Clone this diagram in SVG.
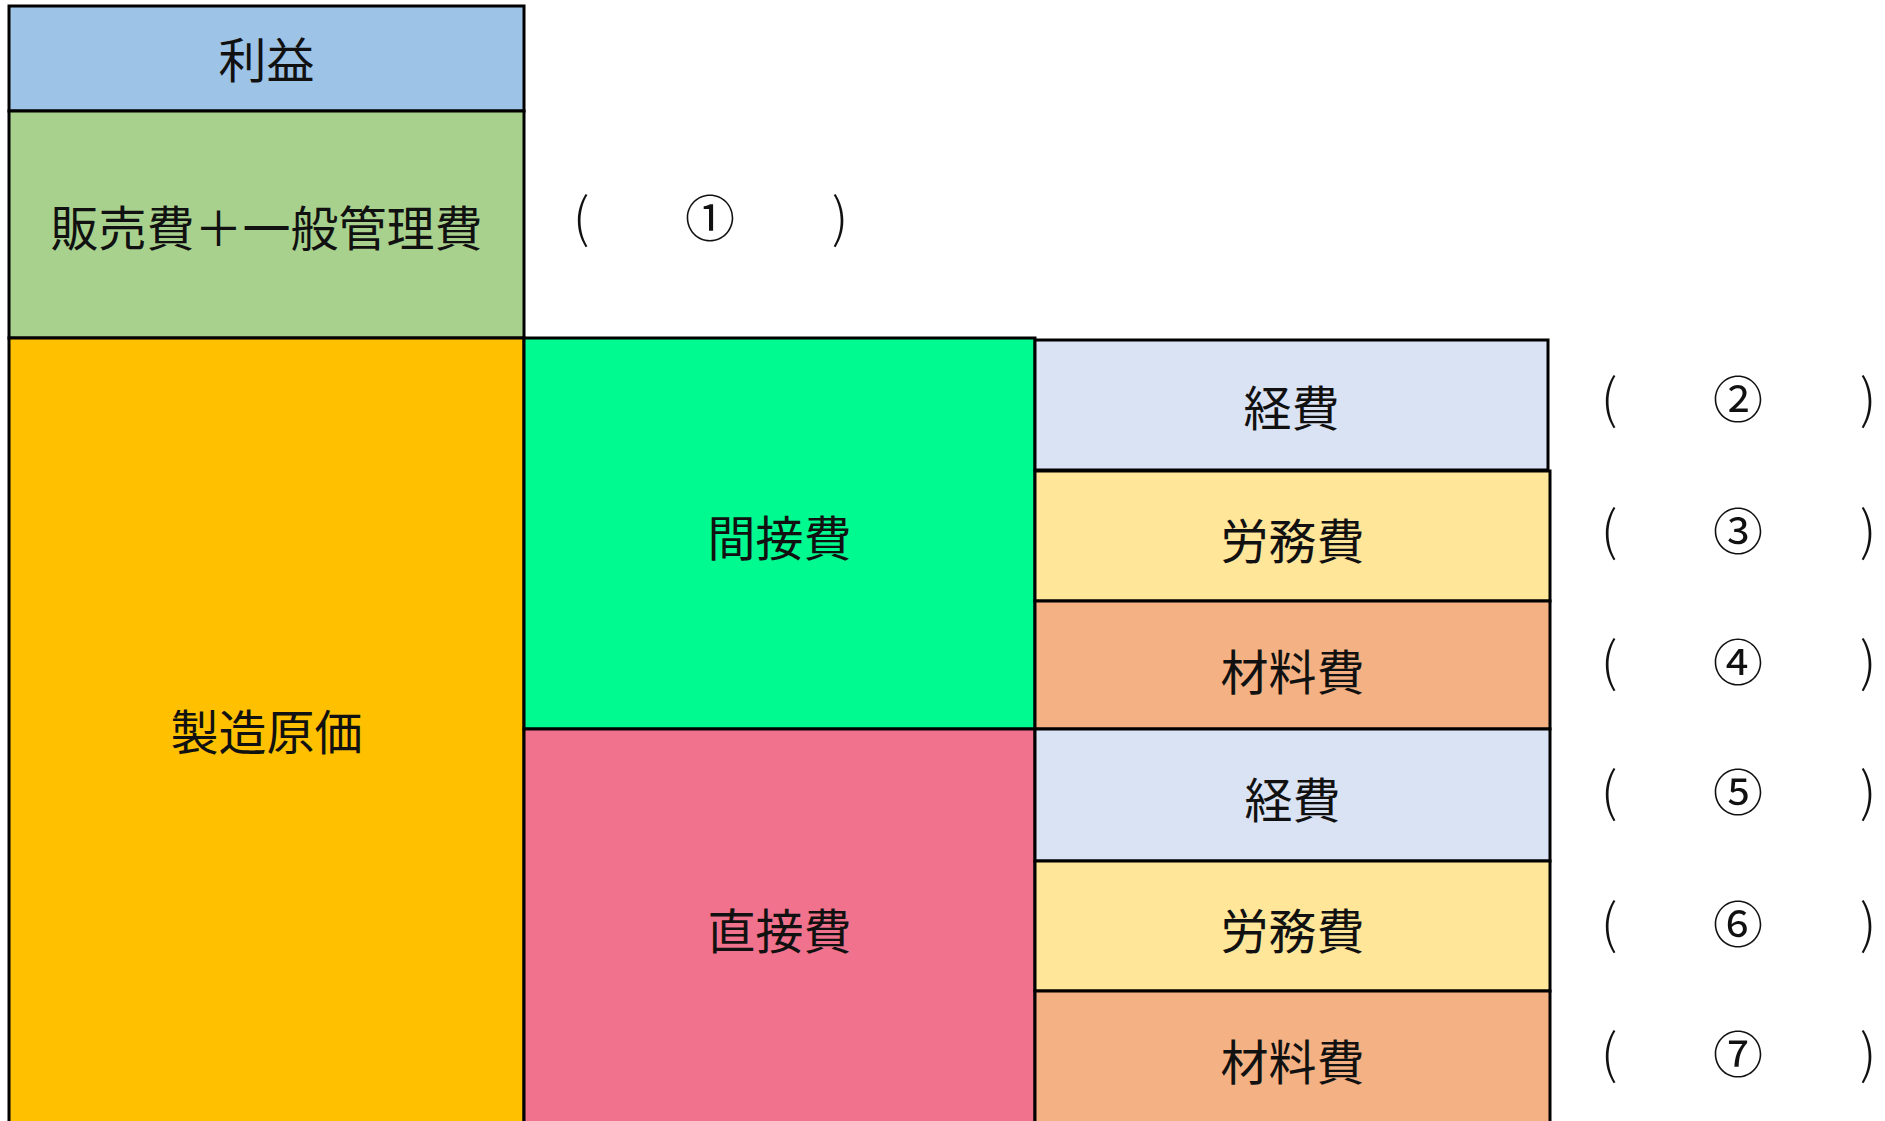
<svg xmlns="http://www.w3.org/2000/svg" width="1885" height="1121" viewBox="0 0 1885 1121">
<style>
rect.b{stroke:#000;stroke-width:3}
text{font-family:"Noto Sans CJK JP","Noto Sans CJK SC",sans-serif;font-size:48px;fill:#111;text-anchor:middle;dominant-baseline:central}
text.n{font-size:50px}
text.p{font-size:53px;font-weight:300}
</style>
<rect width="1885" height="1121" fill="#fff"/>
<g id="rieki"><rect class="b" x="9" y="6" width="515" height="105" fill="#9DC3E6"/><text x="266.5" y="57">利益</text></g>
<g id="hanbai"><rect class="b" x="9" y="111" width="515" height="227" fill="#A9D18E"/><text x="266.5" y="225">販売費＋一般管理費</text></g>
<g id="seizo"><rect class="b" x="9" y="338" width="515" height="800" fill="#FFC000"/><text x="266.5" y="729">製造原価</text></g>
<g id="kansetsu"><rect class="b" x="524" y="338" width="511" height="391" fill="#00FA8F"/><text x="779.5" y="535">間接費</text></g>
<g id="chokusetsu"><rect class="b" x="524" y="729" width="511" height="410" fill="#F1728C"/><text x="779.5" y="928">直接費</text></g>
<g id="keihi1"><rect class="b" x="1035" y="340" width="513" height="130" fill="#DAE3F3"/><text x="1291.5" y="405">経費</text></g>
<g id="romu1"><rect class="b" x="1035" y="471" width="515" height="130" fill="#FFE699"/><text x="1292.5" y="538">労務費</text></g>
<g id="zairyo1"><rect class="b" x="1035" y="601" width="515" height="128" fill="#F4B183"/><text x="1292.5" y="669">材料費</text></g>
<g id="keihi2"><rect class="b" x="1035" y="729" width="515" height="132" fill="#DAE3F3"/><text x="1292.5" y="797">経費</text></g>
<g id="romu2"><rect class="b" x="1035" y="861" width="515" height="130" fill="#FFE699"/><text x="1292.5" y="928">労務費</text></g>
<g id="zairyo2"><rect class="b" x="1035" y="991" width="515" height="150" fill="#F4B183"/><text x="1292.5" y="1059">材料費</text></g>
<g id="labels">
<g id="l1"><text class="p" x="581" y="214">(</text><text class="n" x="710" y="215">①</text><text class="p" x="840" y="214">)</text></g>
<g id="l2"><text class="p" x="1609" y="395">(</text><text class="n" x="1738" y="396">②</text><text class="p" x="1868" y="395">)</text></g>
<g id="l3"><text class="p" x="1609" y="527">(</text><text class="n" x="1738" y="528">③</text><text class="p" x="1868" y="527">)</text></g>
<g id="l4"><text class="p" x="1609" y="658">(</text><text class="n" x="1738" y="659">④</text><text class="p" x="1868" y="658">)</text></g>
<g id="l5"><text class="p" x="1609" y="788">(</text><text class="n" x="1738" y="789">⑤</text><text class="p" x="1868" y="788">)</text></g>
<g id="l6"><text class="p" x="1609" y="920">(</text><text class="n" x="1738" y="921">⑥</text><text class="p" x="1868" y="920">)</text></g>
<g id="l7"><text class="p" x="1609" y="1050">(</text><text class="n" x="1738" y="1051">⑦</text><text class="p" x="1868" y="1050">)</text></g>
</g>
<g id="connectors"/>
</svg>
